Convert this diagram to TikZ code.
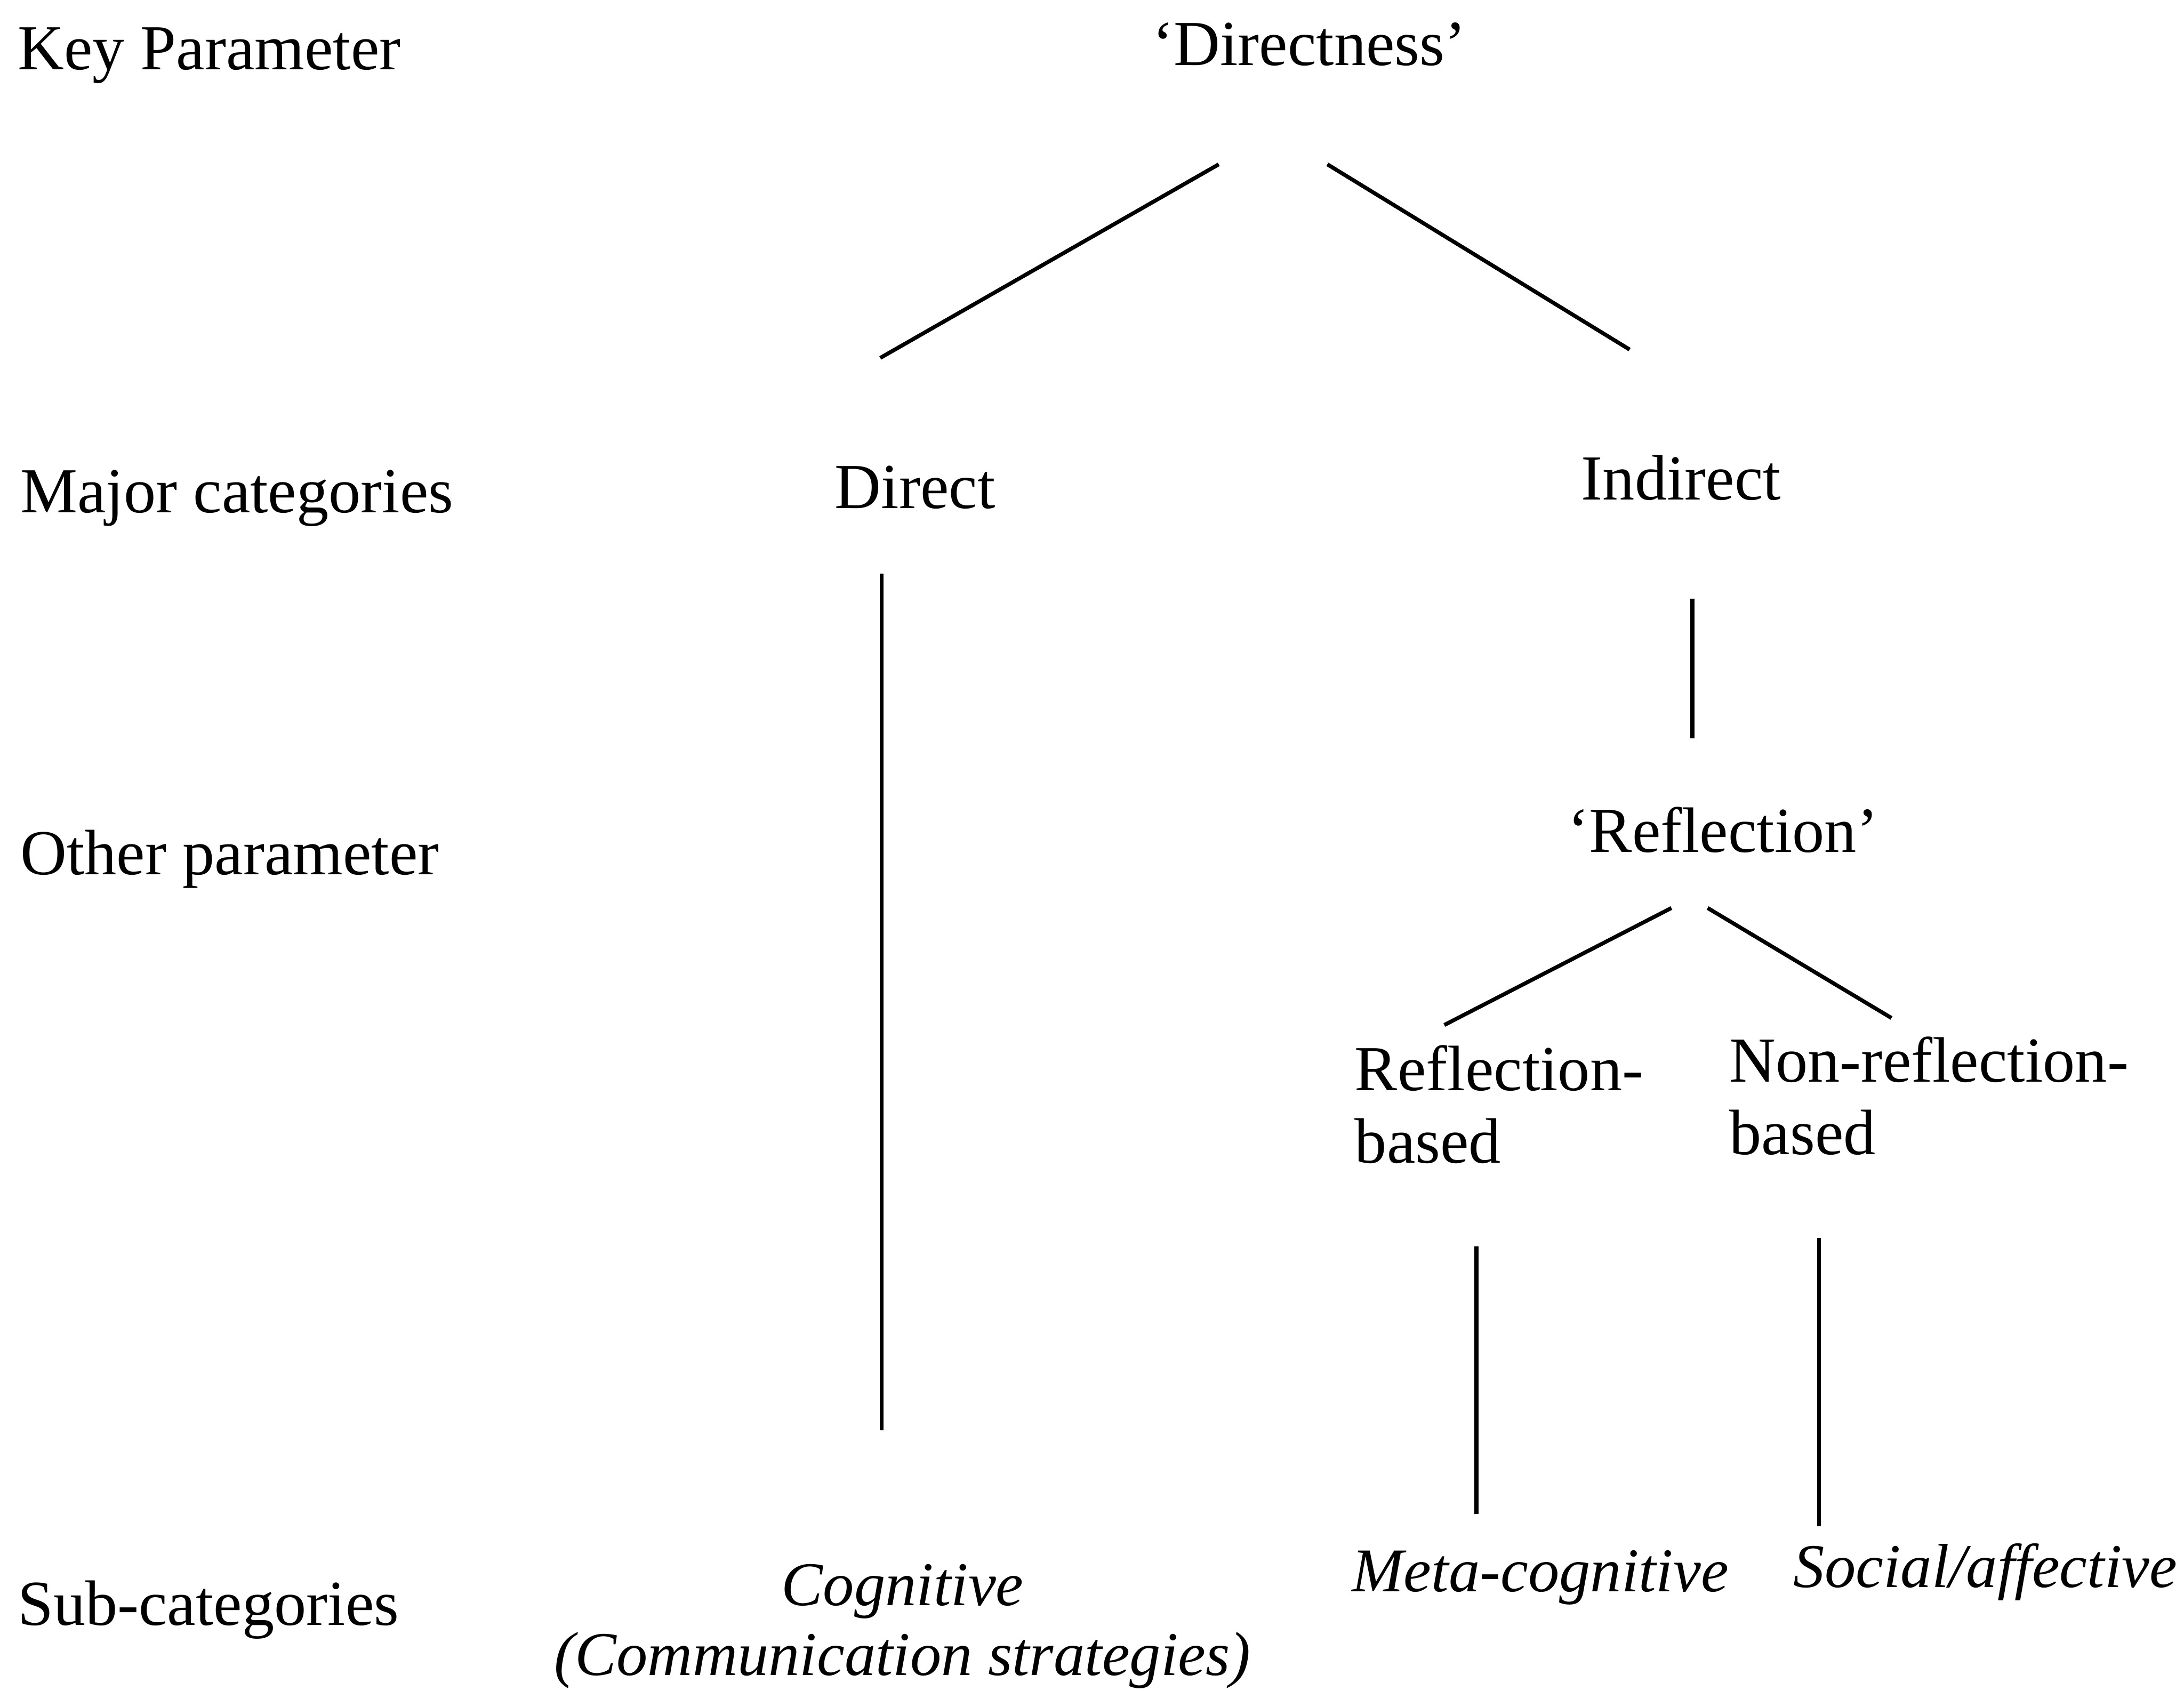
\documentclass[tikz,border=0pt]{standalone}
\usepackage{fontspec}
\setmainfont{Liberation Serif}
\begin{document}
\begin{tikzpicture}[x=0.01cm,y=-0.01cm,
  lbl/.style={inner sep=0pt,font=\fontsize{13.1}{14.8}\selectfont},
  ital/.style={inner sep=0pt,font=\fontsize{12.7}{14.3}\selectfont\itshape},
  conn/.style={line width=0.8pt}]
\useasboundingbox (0,0) rectangle (1568,1214);
% left column
\node[lbl,anchor=base west] (kp) at (12,50) {Key Parameter};
\node[lbl,anchor=base west] (mc) at (14,368) {Major categories};
\node[lbl,anchor=base west] (op) at (14,628) {Other parameter};
\node[lbl,anchor=base west] (sc) at (12,1167) {Sub-categories};
% tree
\node[lbl,anchor=base] (dirn) at (940,47) {‘Directness’};
\node[lbl,anchor=base] (dir) at (657,365) {Direct};
\node[lbl,anchor=base] (ind) at (1207,359) {Indirect};
\node[lbl,anchor=base] (refl) at (1237,612) {‘Reflection’};
\node[lbl,anchor=base west,align=left] (rb) at (972,835) {Reflection-\\based};
\node[lbl,anchor=base west,align=left] (nrb) at (1241,829) {Non-reflection-\\based};
\node[ital,anchor=base,align=center] (cog) at (648,1203) {Cognitive\\(Communication strategies)};
\node[ital,anchor=base west] (meta) at (970,1143) {Meta-cognitive};
\node[ital,anchor=base west] (soc) at (1287,1140) {Social/affective};
% connector ends
\coordinate (c1a) at (875,118); \coordinate (c1b) at (632,257);
\coordinate (c2a) at (953,118); \coordinate (c2b) at (1170,251);
\coordinate (c3a) at (633,412); \coordinate (c3b) at (633,1027);
\coordinate (c4a) at (1215,430); \coordinate (c4b) at (1215,530);
\coordinate (c5a) at (1200,652); \coordinate (c5b) at (1037,736);
\coordinate (c6a) at (1226,652); \coordinate (c6b) at (1358,731);
\coordinate (c7a) at (1060,895); \coordinate (c7b) at (1060,1087);
\coordinate (c8a) at (1306,889); \coordinate (c8b) at (1306,1096);
\draw[conn] (c1a) -- (c1b);
\draw[conn] (c2a) -- (c2b);
\draw[conn] (c3a) -- (c3b);
\draw[conn] (c4a) -- (c4b);
\draw[conn] (c5a) -- (c5b);
\draw[conn] (c6a) -- (c6b);
\draw[conn] (c7a) -- (c7b);
\draw[conn] (c8a) -- (c8b);
\end{tikzpicture}
\end{document}
